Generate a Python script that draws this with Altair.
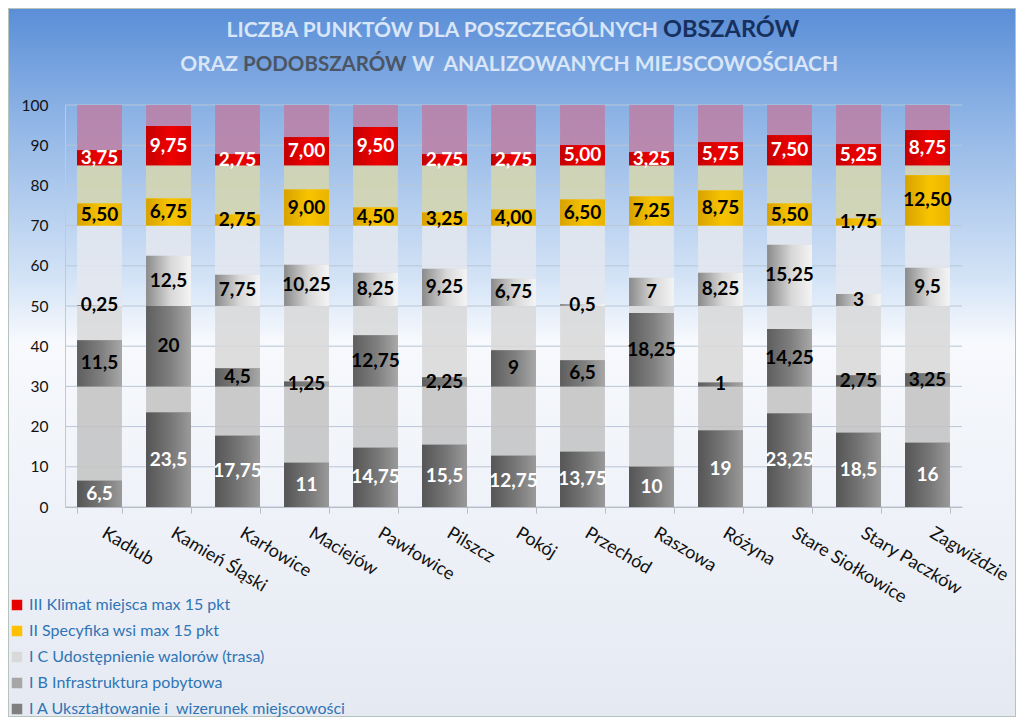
import altair as alt
import pandas as pd

categories = ["Kadłub", "Kamień Śląski", "Karłowice", "Maciejów", "Pawłowice", "Pilszcz",
              "Pokój", "Przechód", "Raszowa", "Różyna", "Stare Siołkowice", "Stary Paczków", "Zagwiździe"]
ia = [6.5, 23.5, 17.75, 11, 14.75, 15.5, 12.75, 13.75, 10, 19, 23.25, 18.5, 16]
ib = [11.5, 20, 4.5, 1.25, 12.75, 2.25, 9, 6.5, 18.25, 1, 14.25, 2.75, 3.25]
ic = [0.25, 12.5, 7.75, 10.25, 8.25, 9.25, 6.75, 0.5, 7, 8.25, 15.25, 3, 9.5]
ii = [5.50, 6.75, 2.75, 9.00, 4.50, 3.25, 4.00, 6.50, 7.25, 8.75, 5.50, 1.75, 12.50]
iii = [3.75, 9.75, 2.75, 7.00, 9.50, 2.75, 2.75, 5.00, 3.25, 5.75, 7.50, 5.25, 8.75]

seg_keys = ["III", "II", "IC", "IB", "IA"]
seg_names = ["III Klimat miejsca max 15 pkt", "II Specyfika wsi max 15 pkt",
             "I C Udostępnienie walorów (trasa)", "I B Infrastruktura pobytowa",
             "I A Ukształtowanie i \u00a0wizerunek miejscowości"]
seg_base = [85, 70, 50, 30, 0]
seg_max = [15, 15, 20, 20, 30]
seg_values = [iii, ii, ic, ib, ia]

legend_colors = ["#e60000", "#ffc000", "#d9d9d9", "#a6a6a6", "#808080"]
bg_colors = ["#bd7fa4", "#d6d6ae", "#e4e8ef", "#d8d8d8", "#c2c2c2"]
gradients = {
    "IA": ["#555555", "#777777", "#9a9a9a"],
    "IB": ["#5e5e5e", "#808080", "#a8a8a8"],
    "IC": ["#8a8a8a", "#d8d8d8", "#f4f4f4"],
    "II": ["#d8a200", "#f8c400", "#e9b400"],
    "III": ["#c40000", "#ee0000", "#d80000"],
}

rows, bg_rows = [], []
for key, name, base, mx, vals in zip(seg_keys, seg_names, seg_base, seg_max, seg_values):
    for c, v in zip(categories, vals):
        if key in ("II", "III"):
            lab = f"{v:.2f}".replace(".", ",")
        else:
            lab = f"{v:g}".replace(".", ",")
        rows.append({"cat": c, "seg": key, "name": name, "start": base, "end": base + v,
                     "mid": base + v / 2, "label": lab})
        bg_rows.append({"cat": c, "seg": key, "start": base, "end": base + mx})
df = pd.DataFrame(rows)
bg = pd.DataFrame(bg_rows)

W, H = 897, 402
PL, PT = 57, 97
TOTW, TOTH = 1008, 709

xenc = alt.X("cat:N", sort=categories,
             scale=alt.Scale(paddingInner=0.35, paddingOuter=0.175),
             axis=alt.Axis(title=None, labelAngle=31, labelAlign="left", labelBaseline="top",
                           labelFont="Lato", labelFontSize=18, labelColor="#111111",
                           labelPadding=11, labelOffset=8, domainColor="#b8bcc4",
                           tickColor="#b8bcc4", tickBand="extent", tickSize=6, grid=False,
                           zindex=2))
yscale = alt.Scale(domain=[0, 100], nice=False)

one = pd.DataFrame({"a": [0]})

backdrop = alt.Chart(one).mark_rect(
    fill={"gradient": "linear", "x1": 0, "y1": 0, "x2": 0, "y2": 1,
          "stops": [{"offset": 0, "color": "#5a8ed7"},
                    {"offset": 0.15, "color": "#8db3e5"},
                    {"offset": 0.38, "color": "#d3e3f6"},
                    {"offset": 0.47, "color": "#f7f9fd"},
                    {"offset": 1, "color": "#e5e9f2"}]},
    stroke="#b7c3bd", strokeWidth=2
).encode(x=alt.value(-PL), x2=alt.value(TOTW - PL), y=alt.value(-PT), y2=alt.value(TOTH - PT))

grid = alt.Chart(pd.DataFrame({"v": list(range(0, 101, 10))})).mark_rule(
    color="#b9c6d6", strokeWidth=1
).encode(y=alt.Y("v:Q", scale=yscale,
                 axis=alt.Axis(title=None, values=list(range(0, 101, 10)), labelFont="Lato",
                               labelFontSize=15.5, labelColor="#111111", labelPadding=17,
                               ticks=False, grid=False, domainColor="#c4c8d0", zindex=2)),
         x=alt.value(0), x2=alt.value(W))

bgbars = alt.Chart(bg).mark_bar(opacity=0.85).encode(
    x=xenc,
    y=alt.Y("start:Q", scale=yscale), y2="end:Q",
    fill=alt.Fill("seg:N", scale=alt.Scale(domain=seg_keys, range=bg_colors), legend=None))

solid = alt.Chart(df).mark_bar().encode(
    x=xenc,
    y=alt.Y("start:Q", scale=yscale), y2="end:Q",
    color=alt.Color("name:N", scale=alt.Scale(domain=seg_names, range=legend_colors),
                    legend=alt.Legend(title=None, orient="none", legendX=-56, legendY=492,
                                      symbolType="square", symbolSize=110, symbolStrokeWidth=0,
                                      labelFont="Lato", labelFontSize=16, labelColor="#2f75b5",
                                      rowPadding=10, labelLimit=500, symbolOffset=0, zindex=2)))

grad_layers = []
for key in seg_keys:
    s = gradients[key]
    grad_layers.append(alt.Chart(df).transform_filter(alt.datum.seg == key).mark_bar(
        fill={"gradient": "linear", "x1": 0, "y1": 0, "x2": 1, "y2": 0,
              "stops": [{"offset": 0, "color": s[0]}, {"offset": 0.55, "color": s[1]},
                        {"offset": 1, "color": s[2]}]}
    ).encode(x=xenc, y=alt.Y("start:Q", scale=yscale), y2="end:Q"))

labels = alt.Chart(df).mark_text(font="Lato", fontSize=19, fontWeight="bold").encode(
    x=xenc, y=alt.Y("mid:Q", scale=yscale), text="label:N",
    color=alt.condition("datum.seg == 'IA' || datum.seg == 'III'",
                        alt.value("white"), alt.value("black")))

LIGHT = "#d8e6f8"
base_t = dict(font="Lato", fontWeight="bold", baseline="middle")
t1a = alt.Chart(one).mark_text(text="LICZBA PUNKTÓW DLA POSZCZEGÓLNYCH", align="right",
                               color=LIGHT, fontSize=21, **base_t).encode(x=alt.value(593), y=alt.value(-74))
t1b = alt.Chart(one).mark_text(text="OBSZARÓW", align="left", color="#17305e", fontSize=23.5,
                               **base_t).encode(x=alt.value(598), y=alt.value(-75))
t2a = alt.Chart(one).mark_text(text="ORAZ", align="right", color=LIGHT, fontSize=21,
                               **base_t).encode(x=alt.value(173), y=alt.value(-40))
t2b = alt.Chart(one).mark_text(text="PODOBSZARÓW", align="left", color="#4b5564", fontSize=20.5,
                               **base_t).encode(x=alt.value(178), y=alt.value(-40))
t2c = alt.Chart(one).mark_text(text="W\u00a0\u00a0ANALIZOWANYCH MIEJSCOWOŚCIACH", align="left",
                               color=LIGHT, fontSize=21, **base_t).encode(x=alt.value(347), y=alt.value(-40))

chart = alt.layer(backdrop, grid, bgbars, solid, *grad_layers, labels, t1a, t1b, t2a, t2b, t2c).resolve_scale(
    color="independent", fill="independent"
).properties(
    width=W, height=H, autosize=alt.AutoSizeParams(type="none"),
    padding={"left": PL, "top": PT, "right": TOTW - PL - W, "bottom": TOTH - PT - H}
).configure_view(stroke=None).configure(background="white")

chart.save("out.html", embed_options={"renderer": "svg", "actions": False})
